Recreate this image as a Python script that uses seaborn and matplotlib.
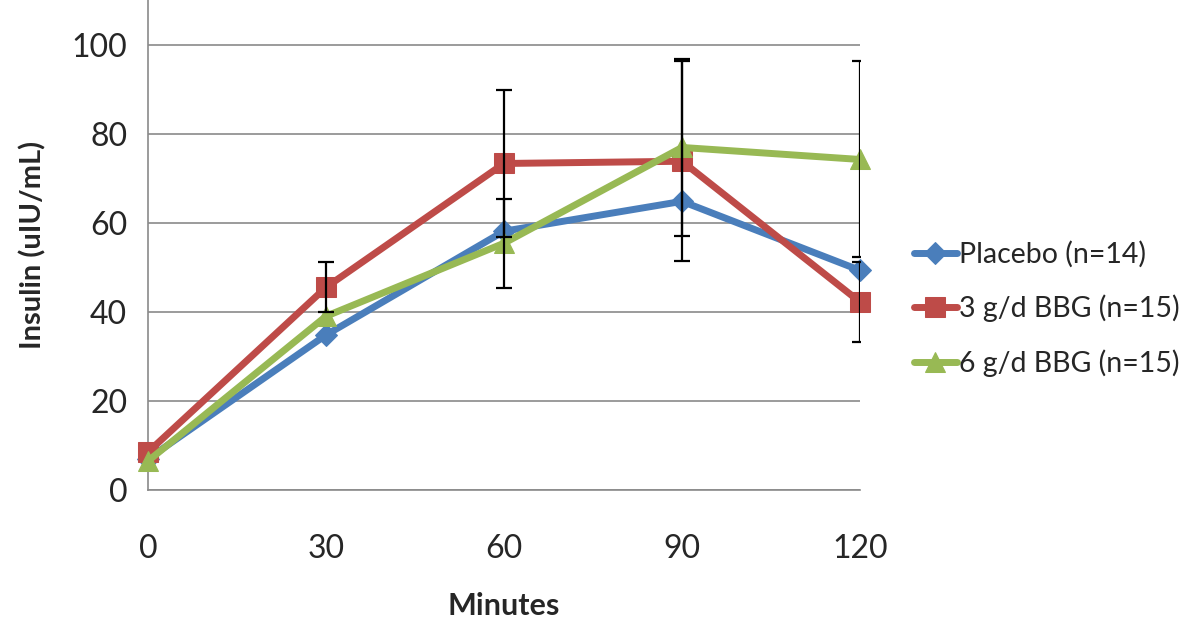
import numpy as np
import pandas as pd
import matplotlib.pyplot as plt
import seaborn as sns

minutes = [0, 30, 60, 90, 120]
groups = ['Placebo (n=14)', '3 g/d BBG (n=15)', '6 g/d BBG (n=15)']
placebo = [7.0, 34.8, 58.1, 64.8, 49.3]
bbg3 = [8.5, 45.5, 73.3, 73.8, 42.2]
bbg6 = [6.5, 39.0, 55.4, 76.9, 74.2]
# error bar half-widths (0 = no bar shown)
bbg3_err = [0, 5.6, 16.4, 22.4, 9.0]
bbg6_err = [0, 0, 10.0, 19.8, 22.0]

colors = ['#4A7EBB', '#BE4B48', '#98B954']
markers = ['D', 's', '^']

df = pd.DataFrame({
    'Minutes': minutes * 3,
    'Insulin': placebo + bbg3 + bbg6,
    'Group': [g for g in groups for _ in minutes],
})

sns.set_style('white')
plt.rcParams['font.family'] = ['Lato', 'DejaVu Sans']

fig = plt.figure(figsize=(12, 6.22), dpi=100)
ax = fig.add_axes([148 / 1200, 132 / 622, 712 / 1200, 490 / 622])

sns.lineplot(data=df, x='Minutes', y='Insulin', hue='Group', style='Group',
             hue_order=groups, style_order=groups, palette=colors,
             markers=markers, dashes=False, linewidth=5, ax=ax, zorder=3,
             legend=False)

sizes = [11, 14, 15]
for line, ms, c in zip(ax.lines, sizes, colors):
    line.set_markersize(ms)
    line.set_markeredgecolor(c)
    line.set_solid_joinstyle('round')
    line.set_clip_on(False)
handles = list(ax.lines[:3])

# error bars in front of the lines
for vals, errs in [(bbg3, bbg3_err), (bbg6, bbg6_err)]:
    x = np.array(minutes)
    y = np.array(vals)
    e = np.array(errs)
    m = e > 0
    ax.errorbar(x[m], y[m], yerr=e[m], fmt='none', ecolor='black',
                elinewidth=1.6, capsize=6, capthick=1.6, zorder=5)

ax.set_xlim(0, 120)
ax.set_ylim(0, 110)
ax.set_xticks(minutes)
ax.set_yticks([0, 20, 40, 60, 80, 100])
ax.yaxis.grid(True, color='#8a8a8a', linewidth=1.2)
ax.set_axisbelow(True)
for s in ['top', 'right']:
    ax.spines[s].set_visible(False)
for s in ['left', 'bottom']:
    ax.spines[s].set_color('#8a8a8a')
    ax.spines[s].set_linewidth(1.2)
ax.tick_params(axis='both', direction='out', length=8, width=1.2,
               color='#8a8a8a', labelsize=23, pad=7)
ax.tick_params(axis='x', pad=24)

ax.set_xlabel('Minutes', fontsize=22, fontweight='bold', labelpad=20)
ax.set_ylabel('Insulin (uIU/mL)', fontsize=21, fontweight='bold', labelpad=18)

ax.legend(handles, groups, loc='center left', bbox_to_anchor=(1.04, 0.37),
          frameon=False, fontsize=20.5, handlelength=1.5, handletextpad=0.08,
          labelspacing=0.95)

fig.savefig('out.png', dpi=100)
